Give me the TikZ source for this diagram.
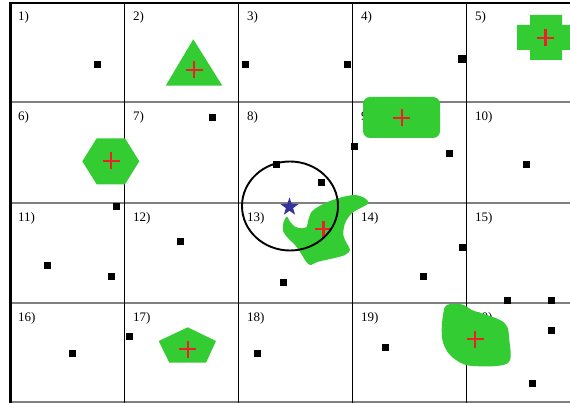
\documentclass[tikz,border=0pt]{standalone}
\usepackage{fontspec}
\setmainfont{Liberation Serif}
\usetikzlibrary{shapes.geometric}
\definecolor{gfill}{RGB}{51,204,51}
\definecolor{rcross}{RGB}{240,30,40}
\definecolor{starblue}{RGB}{51,51,153}
\definecolor{gridgray}{RGB}{128,128,128}
\tikzset{
  vline/.style={black,line width=0.9pt},
  hline/.style={gridgray,line width=1.4pt},
  border/.style={black,line width=2.6pt},
  lbl/.style={anchor=west,inner sep=0pt,font=\fontsize{13}{15}\selectfont},
  sq/.style={fill=black,minimum size=7pt,inner sep=0pt,outer sep=0pt},
  gshape/.style={fill=gfill,draw=none},
  redcross/.pic={\draw[rcross,line width=2.3pt] (-8.5,0)--(8.5,0) (0,-8.5)--(0,8.5);},
  bluestar/.style={star,star points=5,star point ratio=2.5,fill=starblue,minimum size=19pt,inner sep=0pt},
}
\begin{document}
\begin{tikzpicture}[x=1pt,y=-1pt]
\useasboundingbox (0,0) rectangle (570,403);
\fill[white] (0,0) rectangle (570,403);
% grid
\foreach \yy in {102,203,303,402} \draw[hline] (11,\yy) -- (570,\yy);
\foreach \xx in {124,238,352,466} \draw[vline] (\xx,3) -- (\xx,403);
\draw[border] (10,3) -- (570,3);
\draw[border] (10.5,2) -- (10.5,403);
% labels
\node[lbl] (l1) at (18,17) {1)};
\node[lbl] (l2) at (133,17) {2)};
\node[lbl] (l3) at (247,17) {3)};
\node[lbl] (l4) at (361,17) {4)};
\node[lbl] (l5) at (475,17) {5)};
\node[lbl] (l6) at (18,117) {6)};
\node[lbl] (l7) at (133,117) {7)};
\node[lbl] (l8) at (247,117) {8)};
\node[lbl] (l9) at (361,117) {9)};
\node[lbl] (l10) at (475,117) {10)};
\node[lbl] (l11) at (18,218) {11)};
\node[lbl] (l12) at (133,218) {12)};
\node[lbl] (l13) at (247,218) {13)};
\node[lbl] (l14) at (361,218) {14)};
\node[lbl] (l15) at (475,218) {15)};
\node[lbl] (l16) at (18,318) {16)};
\node[lbl] (l17) at (133,318) {17)};
\node[lbl] (l18) at (247,318) {18)};
\node[lbl] (l19) at (361,318) {19)};
\node[lbl] (l20) at (475,318) {20)};
% green shapes
\fill[gshape] (193.3,39.3) -- (222.3,85.7) -- (165.7,85.7) -- cycle;
\fill[gshape] (82.3,161.3) -- (96.7,138.3) -- (125,138.3) -- (139.3,161.3) -- (125,184.3) -- (96.7,184.3) -- cycle;
\fill[gshape] (530,15) -- (562,15) -- (562,25) -- (575,25) -- (575,50) -- (562,50) -- (562,60) -- (530,60) -- (530,50) -- (517,50) -- (517,25) -- (530,25) -- cycle;
\fill[gshape,rounded corners=7pt] (363,97) rectangle (440,138);
\fill[gshape] (187.7,327.3) -- (216,341) -- (206,362.7) -- (169.3,362.7) -- (158.7,341) -- cycle;
\fill[gshape] plot[smooth cycle,tension=0.55] coordinates {(286.7,216.7) (290,221.7) (295,226.7) (301.7,228.3) (306.7,226.7) (308.3,220) (311.7,211.7) (318.3,206.7) (328.3,201.7) (341.7,197.3) (355,195) (365,198.3) (368.3,203.3) (360,208.3) (351.7,213.3) (345,223.3) (343.3,235) (346.7,243.3) (350,250) (345,255) (333.3,258.3) (318.3,261.7) (310,265) (305,260) (300,251.7) (295,245) (288.3,238.3) (283.3,231.7) (283.3,223.3)};
\fill[gshape] plot[smooth cycle,tension=0.6] coordinates {(446.7,305) (460,304) (466.7,306.7) (471.7,310) (486.7,315) (500,320) (507.3,326.7) (509.3,340) (510.7,355) (508.3,362.7) (496.7,366) (473.3,366) (461.7,363.3) (450,355) (443.3,343.3) (441.7,330) (443.3,313.3)};
% crosses
\pic at (194,70) {redcross};
\pic at (111,161) {redcross};
\pic at (545.5,38) {redcross};
\pic at (401.7,117.7) {redcross};
\pic at (187.7,349) {redcross};
\pic at (323.5,229.3) {redcross};
\pic at (475,339.3) {redcross};
% circle and star
\draw[black,line width=1.9pt] (290,206) ellipse [x radius=48pt, y radius=44.5pt];
\node[bluestar] (star) at (289.5,207) {};
% squares
\node[sq] (s1) at (97.7,65) {};
\node[sq] (s2) at (245,65) {};
\node[sq] (s3) at (347.3,65) {};
\node[sq,minimum size=8pt] (s4) at (462.3,59) {};
\node[sq] (s5) at (212.7,117.7) {};
\node[sq] (s6) at (354,146.7) {};
\node[sq] (s7) at (449.7,153.3) {};
\node[sq] (s8) at (526,165) {};
\node[sq] (s9) at (276.7,165) {};
\node[sq] (s10) at (321.7,182.3) {};
\node[sq] (s11) at (116.7,206.7) {};
\node[sq] (s12) at (47,265.3) {};
\node[sq] (s13) at (111,277) {};
\node[sq] (s14) at (180.7,241.7) {};
\node[sq] (s15) at (283.2,282.7) {};
\node[sq] (s16) at (129.7,336) {};
\node[sq] (s17) at (72,353.7) {};
\node[sq] (s18) at (257.7,353.7) {};
\node[sq] (s19) at (462.3,247.7) {};
\node[sq] (s20) at (423.7,276.7) {};
\node[sq] (s21) at (507,300.3) {};
\node[sq] (s22) at (551.7,300.3) {};
\node[sq] (s23) at (551.7,330) {};
\node[sq] (s24) at (385.3,347.3) {};
\node[sq] (s25) at (532.3,383) {};
\end{tikzpicture}
\end{document}
